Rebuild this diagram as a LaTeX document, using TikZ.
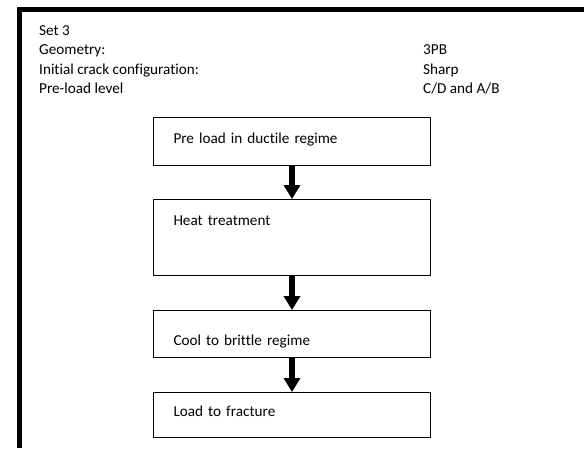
\documentclass[tikz,border=0pt]{standalone}
\usepackage{fontspec}
\setmainfont{Carlito}[Ligatures=NoCommon]
\usetikzlibrary{arrows.meta,positioning}

\begin{document}
\begin{tikzpicture}[
  x=1pt, y=1pt,
  font=\fontsize{15.2}{19.5}\selectfont,
  node distance=33pt,
  box/.style={rectangle, draw, line width=1pt, inner xsep=20pt, inner ysep=0pt, text width=237pt, align=left, text height=25.5pt, text depth=22.5pt},
  info/.style={anchor=base west, inner sep=0pt},
  arrow/.style={-{Triangle[length=14pt,width=16pt]}, line width=6pt}
]
  \useasboundingbox (0,0) rectangle (584,-448);

  % frame
  \draw[line width=5pt] (19,-448) -- (19,-9) -- (584,-9);

  % header
  \node[info] (set) at (39,-35) {Set 3};
  \node[info] (geom) at (39,-54.5) {Geometry:};
  \node[info] (crack) at (39,-74) {Initial crack configuration:};
  \node[info] (level) at (39,-93.5) {Pre-load level};
  \node[info] (geomval) at (423,-54.5) {3PB};
  \node[info] (crackval) at (423,-74) {Sharp};
  \node[info] (levelval) at (423,-93.5) {C/D and A/B};

  % steps
  \node[box, anchor=north west] (preload) at (153,-117) {Pre load in ductile regime};
  \node[box, below=of preload, text height=26.3pt, text depth=49.7pt] (heat) {Heat treatment};
  \node[box, below=34pt of heat, text height=35pt, text depth=12pt] (cool) {Cool to brittle regime};
  \node[box, below=34pt of cool, text height=24pt, text depth=21pt] (fracture) {Load to fracture};

  \draw[arrow] (preload) -- (heat);
  \draw[arrow] (heat) -- (cool);
  \draw[arrow] (cool) -- (fracture);
\end{tikzpicture}
\end{document}
